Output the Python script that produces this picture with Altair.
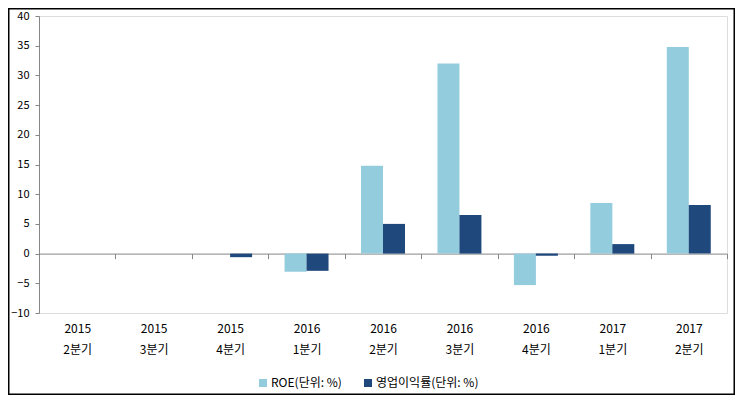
import altair as alt
import pandas as pd

years = ["2015", "2015", "2015", "2016", "2016", "2016", "2016", "2017", "2017"]
quarters = ["2분기", "3분기", "4분기", "1분기", "2분기", "3분기", "4분기", "1분기", "2분기"]
roe = [0, 0, 0, -3.05, 14.8, 32.0, -5.3, 8.5, 34.8]
margin = [0, 0, -0.6, -2.9, 5.0, 6.5, -0.35, 1.6, 8.2]
series = ["ROE(단위: %)", "영업이익률(단위: %)"]
colors = ["#93CDDD", "#1F497D"]

cats = [f"{y}|{q}" for y, q in zip(years, quarters)]
rows = []
for c, a, b in zip(cats, roe, margin):
    rows.append({"cat": c, "series": series[0], "value": a})
    rows.append({"cat": c, "series": series[1], "value": b})
df = pd.DataFrame(rows)

FONT = "Noto Sans CJK KR"
W, H = 688, 297
zero_px = H * 10 / 50.0

bars = alt.Chart(df).mark_bar(size=22).encode(
    x=alt.X("cat:N", sort=cats, title=None,
            scale=alt.Scale(paddingInner=0, paddingOuter=0),
            axis=alt.Axis(orient="bottom", offset=-zero_px, tickBand="extent",
                          domainColor="#868686", tickColor="#868686", tickSize=5,
                          labelExpr="split(datum.label, '|')", labelAngle=0,
                          labelBaseline="top", labelPadding=65, labelLineHeight=21,
                          labelFont=FONT, labelFontSize=12, labelColor="#000000",
                          grid=False)),
    xOffset=alt.XOffset("series:N", sort=series,
                        scale=alt.Scale(paddingInner=0, paddingOuter=0.74)),
    y=alt.Y("value:Q", title=None,
            scale=alt.Scale(domain=[-10, 40], nice=False, zero=False),
            axis=alt.Axis(values=list(range(-10, 41, 5)), grid=False,
                          domainColor="#868686", tickColor="#868686", tickSize=4,
                          labelFont=FONT, labelFontSize=11, labelColor="#000000",
                          labelPadding=6)),
    color=alt.Color("series:N", sort=series,
                    scale=alt.Scale(domain=series, range=colors),
                    legend=alt.Legend(title=None, orient="none", direction="horizontal",
                                      legendX=218, legendY=361,
                                      symbolType="square", symbolSize=64,
                                      symbolStrokeWidth=0, labelFont=FONT,
                                      labelFontSize=12, labelColor="#000000",
                                      labelOffset=2, columnPadding=20)),
)

border = alt.Chart(pd.DataFrame({"k": [0]})).mark_rect(
    fill=None, stroke="#000000", strokeWidth=1.5, clip=False
).encode(
    x=alt.value(-31 + 0.75), x2=alt.value(W + 8 - 0.75),
    y=alt.value(-8 + 0.75), y2=alt.value(H + 82 - 0.75),
)

chart = alt.layer(bars, border).properties(
    width=W, height=H,
    autosize=alt.AutoSizeParams(type="none"),
    padding={"left": 31, "top": 8, "right": 8, "bottom": 82},
).configure_view(stroke=None).configure(background="#ffffff")

chart.save("out.html", embed_options={"renderer": "svg", "actions": False})
